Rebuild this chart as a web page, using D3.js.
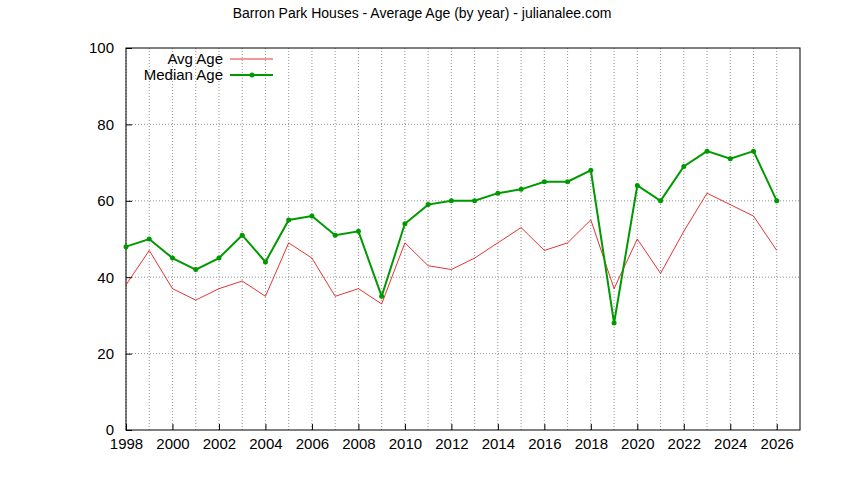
<!DOCTYPE html><html><head><meta charset="utf-8"><script src="https://cdn.jsdelivr.net/npm/d3@7"></script>
<style>body{margin:0;background:#fff}text{font-family:"Liberation Sans",Arial,sans-serif}</style></head><body><svg width="844" height="480"></svg>
<script>
const years=d3.range(1998,2027);
const avgAge=[38,47,37,34,37,39,35,49,45,35,37,33,49,43,42,45,49,53,47,49,55,37,50,41,52,62,59,56,47];
const medianAge=[48,50,45,42,45,51,44,55,56,51,52,35,54,59,60,60,62,63,65,65,68,28,64,60,69,73,71,73,60];
const xTicks=d3.range(1998,2027,2), yTicks=[0,20,40,60,80,100];
const svg=d3.select("svg");
const x=d3.scaleLinear().domain([1998,2027]).range([126,800]);
const y=d3.scaleLinear().domain([0,100]).range([430,48]);
const g=svg.append("g");
years.forEach(v=>g.append("line").attr("x1",x(v)).attr("x2",x(v)).attr("y1",y(0)).attr("y2",y(100)).attr("stroke","#777").attr("stroke-dasharray","1,2").attr("stroke-width",0.8));
[20,40,60,80].forEach(v=>g.append("line").attr("x1",x(1998)).attr("x2",x(2027)).attr("y1",y(v)).attr("y2",y(v)).attr("stroke","#777").attr("stroke-dasharray","1,2").attr("stroke-width",0.8));
svg.append("rect").attr("x",126).attr("y",48).attr("width",674).attr("height",382).attr("fill","none").attr("stroke","#000");
const xa=svg.append("g").attr("transform","translate(0,430)").call(d3.axisBottom(x).tickValues(xTicks).tickFormat(d3.format("d")).tickSize(-6).tickPadding(12));
const ya=svg.append("g").attr("transform","translate(126,0)").call(d3.axisLeft(y).tickValues(yTicks).tickSize(-6).tickPadding(12));
[xa,ya].forEach(a=>{a.select(".domain").remove();a.selectAll("text").attr("font-size",15).attr("fill","#000").attr("font-family","Liberation Sans, Arial");});
xa.selectAll("text").attr("dy","0.45em");
const line=d3.line().x((d,i)=>x(years[i])).y(d=>y(d));
svg.append("path").datum(avgAge).attr("d",line).attr("fill","none").attr("stroke","#d00").attr("stroke-width",0.8);
svg.append("path").datum(medianAge).attr("d",line).attr("fill","none").attr("stroke","#009900").attr("stroke-width",2);
svg.selectAll("circle.m").data(medianAge).enter().append("circle").attr("cx",(d,i)=>x(years[i])).attr("cy",d=>y(d)).attr("r",2.5).attr("fill","#009900");
svg.append("text").attr("x",422).attr("y",18).attr("text-anchor","middle").attr("font-size",14).text("Barron Park Houses - Average Age (by year) - julianalee.com");
svg.append("text").attr("x",223).attr("y",64).attr("text-anchor","end").attr("font-size",15).text("Avg Age");
svg.append("line").attr("x1",230).attr("x2",273).attr("y1",59).attr("y2",59).attr("stroke","#d00").attr("stroke-width",0.8);
svg.append("text").attr("x",223).attr("y",80).attr("text-anchor","end").attr("font-size",15).text("Median Age");
svg.append("line").attr("x1",230).attr("x2",273).attr("y1",75).attr("y2",75).attr("stroke","#009900").attr("stroke-width",2);
[252].forEach(cx=>svg.append("circle").attr("cx",cx).attr("cy",75).attr("r",2.5).attr("fill","#009900"));
</script></body></html>
